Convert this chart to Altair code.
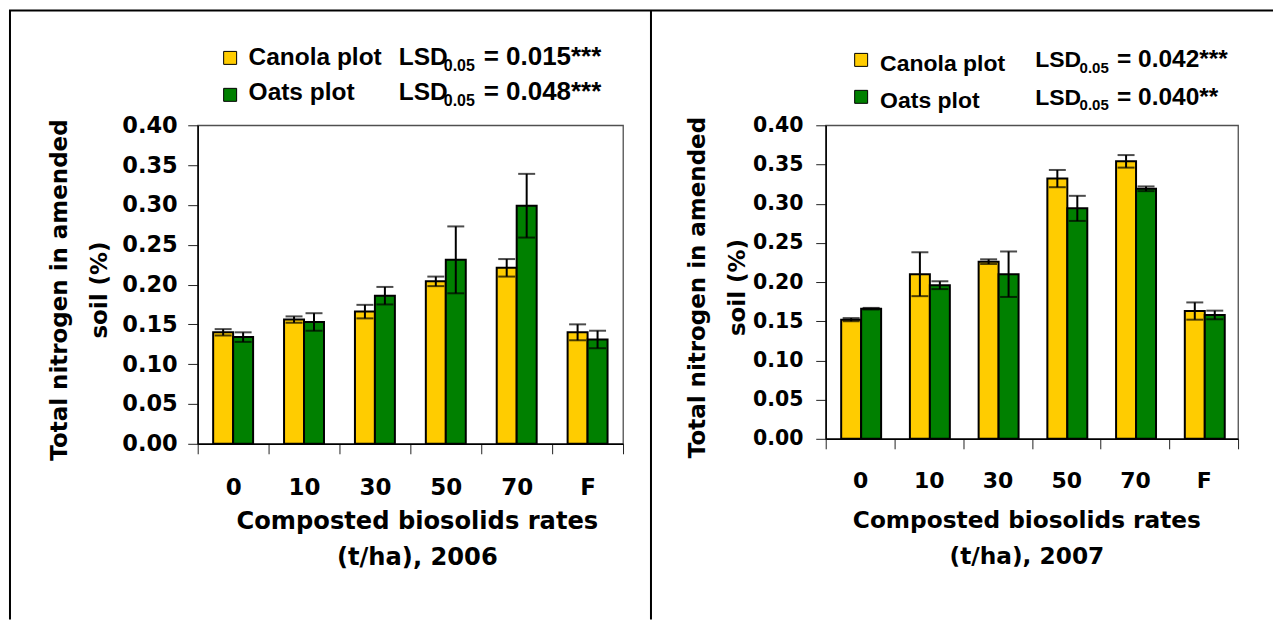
import altair as alt
import pandas as pd

# Compost rate categories and series
rates = ["0", "10", "30", "50", "70", "F"]
series = ["Canola plot", "Oats plot"]
colors = ["#FFCC00", "#008000"]

# 2006 means and standard errors (total N, %)
canola_2006 = [0.140, 0.156, 0.166, 0.204, 0.221, 0.140]
canola_err_2006 = [0.004, 0.004, 0.0085, 0.006, 0.011, 0.010]
oats_2006 = [0.134, 0.153, 0.186, 0.231, 0.299, 0.131]
oats_err_2006 = [0.006, 0.011, 0.011, 0.042, 0.040, 0.011]
lsd_2006 = ["= 0.015***", "= 0.048***"]

# 2007 means and standard errors (total N, %)
canola_2007 = [0.152, 0.210, 0.226, 0.332, 0.354, 0.163]
canola_err_2007 = [0.002, 0.028, 0.003, 0.011, 0.008, 0.011]
oats_2007 = [0.166, 0.196, 0.210, 0.294, 0.319, 0.158]
oats_err_2007 = [0.001, 0.005, 0.029, 0.016, 0.003, 0.0055]
lsd_2007 = ["= 0.042***", "= 0.040**"]

y_ticks = [0.0, 0.05, 0.10, 0.15, 0.20, 0.25, 0.30, 0.35, 0.40]
y_title = ["Total nitrogen in amended", "soil (%)"]
x_title_main = "Composted biosolids rates"

AXIS_FONT = "DejaVu Sans"
LEG_FONT = "Liberation Sans"


def one_row(**kw):
    return pd.DataFrame([kw])


def panel(year, canola, canola_err, oats, oats_err, lsd, g):
    rows = []
    for s, vals, errs in ((series[0], canola, canola_err), (series[1], oats, oats_err)):
        for r, v, e in zip(rates, vals, errs):
            rows.append({"rate": r, "series": s, "value": v,
                         "lo": v - e, "hi": v + e})
    df = pd.DataFrame(rows)

    x = alt.X("rate:N", sort=rates,
              scale=alt.Scale(paddingInner=0, paddingOuter=0),
              axis=alt.Axis(title=[x_title_main, f"(t/ha), {year}"],
                            labelAngle=0, tickBand="extent", tickSize=10,
                            labelFontSize=g["xlab"], labelPadding=g["xpad"],
                            titleFontSize=g["xtitle"], titleLineHeight=36,
                            titleX=g["xtx"], titleY=g["xty"],
                            titleBaseline="alphabetic", titleAlign="center"))
    xo = alt.XOffset("series:N", sort=series,
                     scale=alt.Scale(paddingInner=0, paddingOuter=g["po"]))
    yaxis = alt.Axis(title=y_title, values=y_ticks, format=".2f", tickSize=10,
                     labelFontSize=g["ylab"], labelPadding=g["ypad"],
                     titleFontSize=23, titleLineHeight=40,
                     titleX=g["ytx"], titleY=g["h"] / 2 + 5, titleAngle=-90,
                     titleBaseline="alphabetic", titleAlign="center")
    yscale = alt.Scale(domain=[0, 0.4], nice=False, zero=True)

    base = alt.Chart(df)
    bars = base.mark_bar(stroke="black", strokeWidth=2).encode(
        x=x, xOffset=xo,
        y=alt.Y("value:Q", scale=yscale, axis=yaxis),
        color=alt.Color("series:N", scale=alt.Scale(domain=series, range=colors),
                        legend=None),
    )
    whisk = base.mark_rule(color="black", strokeWidth=2).encode(
        x=x, xOffset=xo, y=alt.Y("lo:Q", scale=yscale, axis=yaxis), y2="hi:Q")
    cap_hi = base.mark_tick(color="black", thickness=2, size=17).encode(
        x=x, xOffset=xo, y=alt.Y("hi:Q", scale=yscale, axis=yaxis))
    cap_lo = base.mark_tick(color="black", thickness=2, size=17).encode(
        x=x, xOffset=xo, y=alt.Y("lo:Q", scale=yscale, axis=yaxis))

    layers = [bars, whisk, cap_hi, cap_lo]

    # legend block above the plot: swatch, series name, LSD statement
    for i, (name, col, stat) in enumerate(zip(series, colors, lsd)):
        L = g["leg"][i]
        layers.append(alt.Chart(one_row(c=col)).mark_rect(
            stroke="black", strokeWidth=1).encode(
            x=alt.value(L["sx"]), x2=alt.value(L["sx"] + 13),
            y=alt.value(L["sy"]), y2=alt.value(L["sy"] + 13),
            color=alt.Color("c:N", scale=None)))
        layers.append(alt.Chart(one_row(t=name)).mark_text(
            font=LEG_FONT, fontWeight="bold", fontSize=g["legfs"], align="left",
            baseline="alphabetic", color="black").encode(
            x=alt.value(L["tx"]), y=alt.value(L["ty"]), text="t:N"))
        layers.append(alt.Chart(one_row(t="LSD")).mark_text(
            font=LEG_FONT, fontWeight="bold", fontSize=g["legfs"], align="left",
            baseline="alphabetic", color="black").encode(
            x=alt.value(L["lx"]), y=alt.value(L["ly"]), text="t:N"))
        layers.append(alt.Chart(one_row(t="0.05")).mark_text(
            font=LEG_FONT, fontWeight="bold", fontSize=g["subfs"], align="left",
            baseline="alphabetic", color="black").encode(
            x=alt.value(L["lx"] + g["subdx"]), y=alt.value(L["ly"] + g["subdy"]),
            text="t:N"))
        layers.append(alt.Chart(one_row(t=stat)).mark_text(
            font=LEG_FONT, fontWeight="bold", fontSize=g["statfs"], align="left",
            baseline="alphabetic", color="black").encode(
            x=alt.value(L["lx"] + g["statdx"]), y=alt.value(L["ly"]),
            text="t:N"))

    layers += g.get("extra", [])
    return alt.layer(*layers).properties(width=g["w"], height=g["h"])


def frame_rule(x1, x2, y1, y2):
    return alt.Chart(one_row(k=1)).mark_rule(color="black", strokeWidth=2).encode(
        x=alt.value(x1), x2=alt.value(x2), y=alt.value(y1), y2=alt.value(y2))


# table borders around the two figure cells
borders = [
    frame_rule(-189, 1077, -115, -115),
    frame_rule(-188, -188, -115, 495),
    frame_rule(454, 454, -115, 495),
]

geo_2006 = dict(
    w=426, h=319, po=0.775, xlab=23, xpad=22.8, xtitle=24.2, xtx=219.5, xty=85,
    ylab=22.5, ypad=10.5, ytx=-131,
    legfs=24.5, subfs=16, statfs=26, subdx=45, subdy=6, statdx=85,
    leg=[dict(sx=26, sy=-74, tx=51, ty=-60.7, lx=201.5, ly=-60.7),
         dict(sx=26, sy=-37, tx=51, ty=-25.7, lx=201.5, ly=-25.7)],
    extra=borders,
)
geo_2007 = dict(
    w=413, h=314, po=0.725, xlab=22, xpad=21.3, xtitle=23.3, xtx=201, xty=89.3,
    ylab=20.5, ypad=12.8, ytx=-121,
    legfs=23, subfs=15, statfs=24.5, subdx=44.5, subdy=5.7, statdx=82,
    leg=[dict(sx=29, sy=-72, tx=54.5, ty=-54.7, lx=209.8, ly=-58),
         dict(sx=29, sy=-35, tx=54.5, ty=-17.3, lx=209.8, ly=-20.7)],
)

left = panel(2006, canola_2006, canola_err_2006, oats_2006, oats_err_2006,
             lsd_2006, geo_2006)
right = panel(2007, canola_2007, canola_err_2007, oats_2007, oats_err_2007,
              lsd_2007, geo_2007)

chart = alt.hconcat(left, right, spacing=203, bounds="flush").properties(
    padding={"left": 7, "top": 8, "right": 0, "bottom": 0},
    background="white",
).configure_view(
    stroke="#505050", strokeWidth=1.3,
).configure_axis(
    domainColor="black", domainWidth=1.5, tickColor="#222222", tickWidth=1,
    labelFont=AXIS_FONT, labelFontWeight="bold", labelColor="black",
    titleFont=AXIS_FONT, titleFontWeight="bold", titleColor="black",
    grid=False,
)

chart.save("out.html", embed_options={"renderer": "svg", "actions": False})
